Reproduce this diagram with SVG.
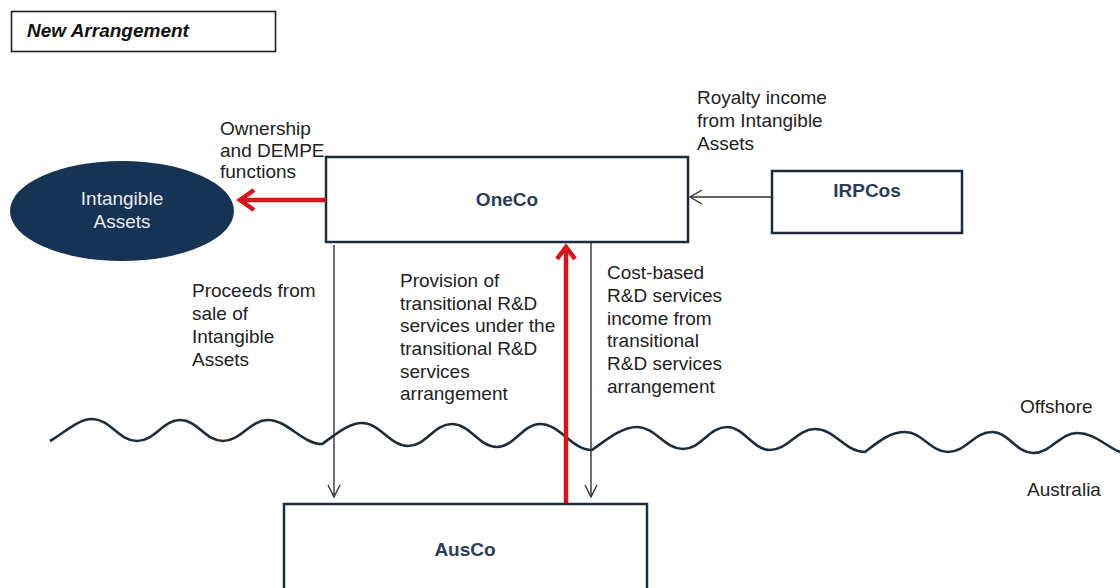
<svg xmlns="http://www.w3.org/2000/svg" width="1120" height="588" viewBox="0 0 1120 588">
  <defs>
    <style>
      text { font-family: "Liberation Sans", Arial, sans-serif; font-size: 19px; fill: #222; }
      .title { font-weight: bold; font-style: italic; fill: #111; }
      .node { font-weight: bold; fill: #2a3d58; text-anchor: middle; }
      .box { fill: #fff; stroke: #1c2b3c; stroke-width: 2.5; }
      .oval-text { fill: #e6ebf2; text-anchor: middle; }
      .flow { fill: none; stroke: #333; stroke-width: 1.4; }
      .key { fill: none; stroke: #d7141a; stroke-width: 4.5; }
      .head-thin { fill: none; stroke: #333; stroke-width: 1.4; }
      .head-red { fill: none; stroke: #d7141a; stroke-width: 4.5; stroke-linejoin: miter; }
      .border { fill: none; stroke: #1e2c3a; stroke-width: 2.6; stroke-linejoin: round; }
    </style>
  </defs>

  <rect width="1120" height="588" fill="#fff"/>

  <!-- heading -->
  <g id="heading">
    <rect x="11.5" y="11.5" width="264" height="40" fill="#fff" stroke="#222" stroke-width="1.6"/>
    <text class="title" x="27" y="37">New Arrangement</text>
  </g>

  <!-- jurisdiction boundary -->
  <g id="boundary">
    <path class="border" d="M50,441 C64,433 78,419 92,419 C110,419 119,441 137,441 C155,441 163,420 180,420 C198,420 205,441 223,441 C241,441 250,420 268,420 C288,420 302,444 322,444
      C334,436 348,423 362,423 C380,423 390,446 408,446 C426,446 434,424 452,424 C470,424 479,447 497,447 C514,447 523,424 540,424 C561,424 571,450 592,450
      C605,441 621,427 637,427 C655,427 665,449 683,449 C701,449 709,427 727,427 C744,427 753,450 770,450 C788,450 797,429 815,429 C835,429 845,452 865,452
      C877,443 889,432 905,432 C922,432 931,452 948,452 C966,452 974,432 992,432 C1009,432 1016,453 1033,453 C1051,453 1060,433 1077,433 C1095,433 1105,446 1120,452"/>
    <text x="1020" y="413">Offshore</text>
    <text x="1027" y="496">Australia</text>
  </g>

  <!-- nodes -->
  <g id="intangible-assets">
    <ellipse cx="122" cy="211" rx="112" ry="50" fill="#163354"/>
    <text class="oval-text" x="122" y="205">Intangible</text>
    <text class="oval-text" x="122" y="228">Assets</text>
  </g>

  <g id="oneco">
    <rect class="box" x="326" y="157" width="362" height="85"/>
    <text class="node" x="507" y="206">OneCo</text>
  </g>

  <g id="irpcos">
    <rect class="box" x="772" y="171" width="190" height="62"/>
    <text class="node" x="867" y="197">IRPCos</text>
  </g>

  <g id="ausco">
    <rect class="box" x="284" y="504" width="363" height="100"/>
    <text class="node" x="465" y="556">AusCo</text>
  </g>

  <!-- connectors -->
  <g id="connectors">
    <!-- OneCo to Intangible Assets -->
    <line class="key" x1="326" y1="200" x2="241" y2="200"/>
    <polyline class="head-red" points="254,190 240,200 254,210"/>

    <!-- IRPCos to OneCo -->
    <line class="flow" x1="772" y1="197" x2="690" y2="197" stroke="#555"/>
    <polyline class="head-thin" points="702,190 690,197 702,204"/>

    <!-- OneCo to AusCo: sale proceeds -->
    <line class="flow" x1="334" y1="245" x2="334" y2="497"/>
    <polyline class="head-thin" points="328,485 334,497 340,485"/>

    <!-- OneCo to AusCo: service income -->
    <line class="flow" x1="591" y1="243" x2="591" y2="497"/>
    <polyline class="head-thin" points="585,485 591,497 597,485"/>

    <!-- AusCo to OneCo: R&D services -->
    <line class="key" x1="566" y1="503" x2="566" y2="248"/>
    <polyline class="head-red" points="557,259 566,247 575,259"/>
  </g>

  <!-- flow labels -->
  <g id="labels">
    <text x="220" y="135">Ownership</text>
    <text x="220" y="157">and DEMPE</text>
    <text x="220" y="178">functions</text>

    <text x="697" y="104">Royalty income</text>
    <text x="697" y="127">from Intangible</text>
    <text x="697" y="150">Assets</text>

    <text x="192" y="297">Proceeds from</text>
    <text x="192" y="320">sale of</text>
    <text x="192" y="343">Intangible</text>
    <text x="192" y="366">Assets</text>

    <text x="400" y="287">Provision of</text>
    <text x="400" y="310">transitional R&amp;D</text>
    <text x="400" y="332">services under the</text>
    <text x="400" y="355">transitional R&amp;D</text>
    <text x="400" y="378">services</text>
    <text x="400" y="400">arrangement</text>

    <text x="607" y="279">Cost-based</text>
    <text x="607" y="302">R&amp;D services</text>
    <text x="607" y="325">income from</text>
    <text x="607" y="347">transitional</text>
    <text x="607" y="370">R&amp;D services</text>
    <text x="607" y="393">arrangement</text>
  </g>
</svg>
